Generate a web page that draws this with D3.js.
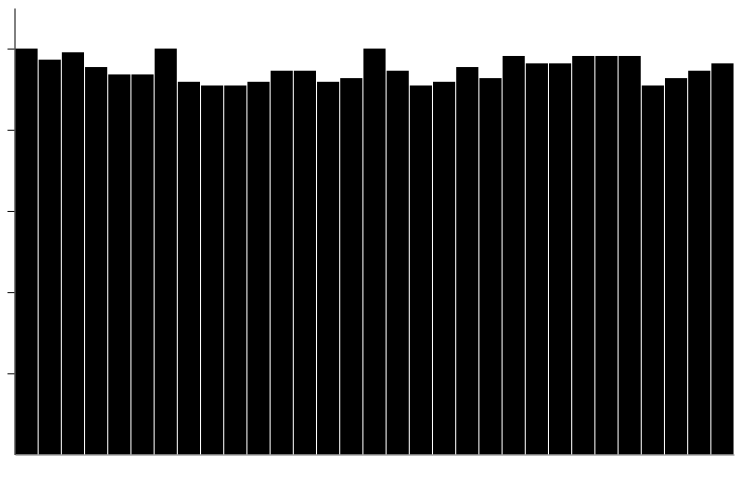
<!DOCTYPE html>
<html>
<head>
<meta charset="utf-8">
<script src="https://cdn.jsdelivr.net/npm/d3@7"></script>
<style>
html,body{margin:0;padding:0;background:#fff;}
svg{display:block;}
</style>
</head>
<body>
<div id="chart"></div>
<script>
const categories = d3.range(1, 32).map(String);
const values = [110,107,109,105,103,103,110,101,100,100,101,104,104,101,102,110,104,100,101,105,102,108,106,106,108,108,108,100,102,104,106];
const tickValues = [22,44,66,88,110];

const W = 755, H = 482;
const svg = d3.select("#chart").append("svg").attr("width", W).attr("height", H);

const x = d3.scaleBand().domain(categories).range([15, 734]).paddingInner(0.045).paddingOuter(0.02);
const y = d3.scaleLinear().domain([0, 121]).range([454.5, 8]);

svg.append("g").selectAll("rect").data(values).join("rect")
  .attr("x", (d,i) => x(categories[i]))
  .attr("width", x.bandwidth())
  .attr("y", d => y(d))
  .attr("height", d => y(0) - y(d))
  .attr("fill", "#000");

// x axis baseline
const xAxis = svg.append("g").attr("transform", `translate(0,${y(0)})`)
  .call(d3.axisBottom(x).tickSize(0).tickFormat(""));
xAxis.select(".domain").attr("stroke", "#777").attr("stroke-width", 1.2);

// y axis
const yAxis = svg.append("g").attr("transform", "translate(14.5,0)")
  .call(d3.axisLeft(y).tickValues(tickValues).tickSize(7).tickSizeOuter(0).tickFormat(""));
yAxis.select(".domain").attr("stroke", "#000");
yAxis.selectAll(".tick line").attr("stroke", "#000");
</script>
</body>
</html>
